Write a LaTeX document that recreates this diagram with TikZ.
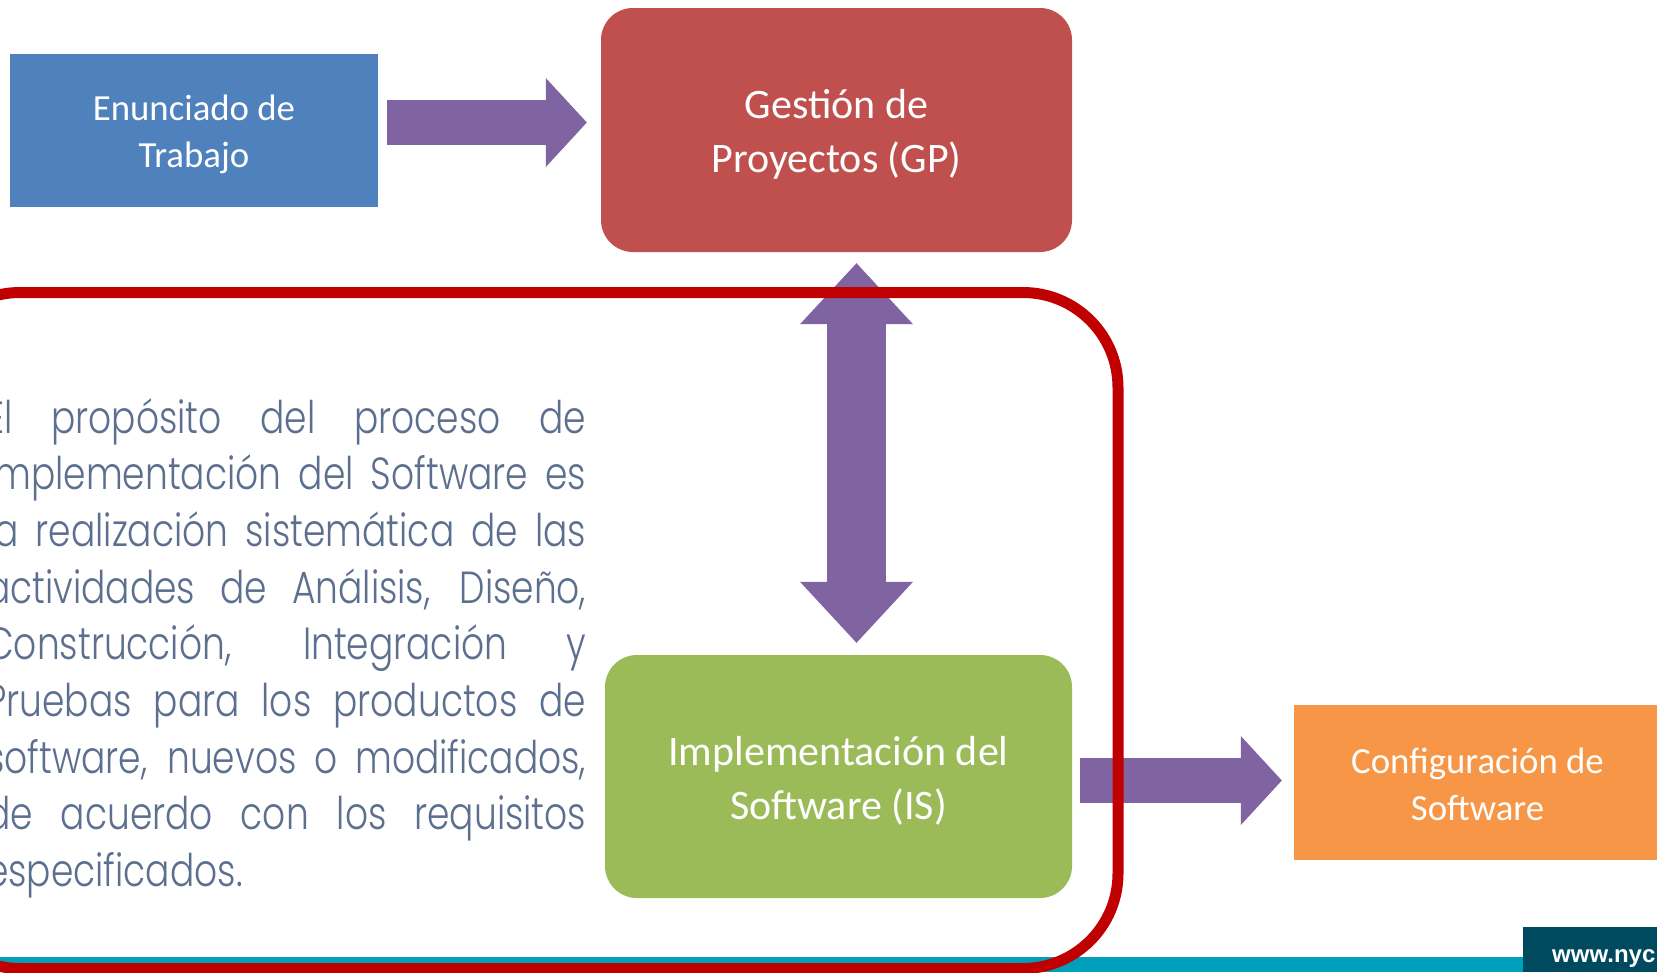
\documentclass[tikz,border=0pt]{standalone}
\usepackage{fontspec}
\setmainfont{Carlito}
\newfontfamily\bodyfont[FakeStretch=0.80]{Poppins Light}
\newfontfamily\urlfont{Liberation Sans}
\usetikzlibrary{arrows.meta,calc}
\definecolor{cblue}{HTML}{4F81BD}
\definecolor{cred}{HTML}{C0504D}
\definecolor{cgreen}{HTML}{9BBB59}
\definecolor{corange}{HTML}{F79646}
\definecolor{cpurple}{HTML}{8064A2}
\definecolor{cframe}{HTML}{C00000}
\definecolor{cteal}{HTML}{00A0BC}
\definecolor{cdark}{HTML}{004A60}
\definecolor{cbody}{HTML}{5C6F8E}
\tikzset{
  x=1pt,y=-1pt,
  square/.style={rectangle,inner sep=0pt,text=white,align=center,font=\fontsize{36.8}{47.5}\selectfont},
  rounded/.style={rectangle,rounded corners=32pt,inner sep=0pt,text=white,align=center,font=\fontsize{42}{54}\selectfont},
  blockone/.style={line width=45pt,cpurple,-{Triangle[length=41pt,width=89pt,line width=0pt]}},
  blocktwo/.style={line width=59pt,cpurple,{Triangle[length=61pt,width=113pt,line width=0pt]}-{Triangle[length=61pt,width=113pt,line width=0pt]}},
}
\newcommand{\jline}[1]{\makebox[600pt][s]{#1}}
\newcommand{\liftto}[1]{\rule{0pt}{#1pt}}
\begin{document}
\begin{tikzpicture}
\useasboundingbox (0,0) rectangle (1657,972);
\fill[white] (0,0) rectangle (1657,972);
% footer
\fill[cteal] (0,957) rectangle (1657,972);
\node[fill=cdark,minimum width=134pt,minimum height=45pt,inner sep=0pt] (url) at (1590,949.5) {};
\node[anchor=base west,inner sep=0pt,text=white,font=\urlfont\bfseries\fontsize{24}{24}\selectfont] (urltext) at (1552,962) {www.nyc};
% boxes
\node[square,fill=cblue,minimum width=368pt,minimum height=153pt] (enun) at (194,130.5) {\liftto{33}Enunciado de\\Trabajo};
\node[rounded,fill=cred,minimum width=471pt,minimum height=244pt] (gp) at (836.5,130) {\liftto{38}Gestión de\\Proyectos (GP)};
\node[rounded,fill=cgreen,minimum width=467pt,minimum height=243pt] (is) at (838.5,776.5) {\liftto{38}Implementación del\\Software (IS)};
\node[square,fill=corange,minimum width=363pt,minimum height=155pt] (conf) at (1475.5,782.5) {\liftto{29}\hspace*{4pt}Configuración de\\\hspace*{4pt}Software};
% connectors
\draw[blockone] ($(enun.east)+(9,-8)$) -- ($(gp.west)+(-14,-7.5)$);
\draw[blocktwo] ($(is.north)+(18,-12)$) -- ($(gp.south)+(20,11)$);
\draw[blockone] ($(is.east)+(8,4)$) -- ($(conf.west)+(-12,-2)$);
% frame
\node[draw=cframe,line width=11pt,rectangle,rounded corners=95pt,inner sep=0pt,minimum width=1193pt,minimum height=676pt] (frame) at (521.5,630.5) {};
% body text
\node[anchor=north west,inner sep=0pt,text=cbody,align=left,font=\bodyfont\fontsize{45}{56.7}\selectfont] (body) at (-14,398) {%
\jline{El propósito del proceso de}\\
\jline{Implementación del Software es}\\
\jline{la realización sistemática de las}\\
\jline{actividades de Análisis, Diseño,}\\
\jline{Construcción, Integración y}\\
\jline{Pruebas para los productos de}\\
\jline{software, nuevos o modificados,}\\
\jline{de acuerdo con los requisitos}\\
especificados.};
\end{tikzpicture}
\end{document}
